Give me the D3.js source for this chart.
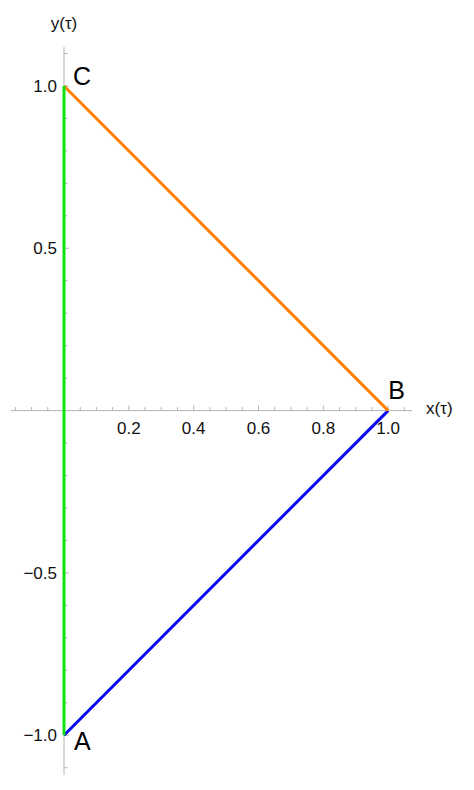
<!DOCTYPE html>
<html><head><meta charset="utf-8">
<script src="https://cdn.jsdelivr.net/npm/d3@7"></script>
<style>html,body{margin:0;padding:0;background:#fff;}svg{display:block;}</style>
</head><body>
<svg id="chart" width="474" height="790"></svg>
<script>
// Data
const segmentNames = ["AB", "BC", "CA"];
const segmentColors = ["#0808f0", "#ff8000", "#10e010"];
const segmentFrom = [[0, -1], [1, 0], [0, 1]];
const segmentTo = [[1, 0], [0, 1], [0, -1]];
const pointLabels = ["A", "B", "C"];
const pointX = [0, 1, 0];
const pointY = [-1, 0, 1];
const xMajorTicks = [0.2, 0.4, 0.6, 0.8, 1.0];
const xMinorTicks = [-0.15, -0.1, -0.05, 0.05, 0.1, 0.15, 0.25, 0.3, 0.35, 0.45, 0.5, 0.55, 0.65, 0.7, 0.75, 0.85, 0.9, 0.95, 1.05];
const yMajorTicks = [-1.0, -0.5, 0.5, 1.0];
const yMinorTicks = [-1.1, -0.9, -0.8, -0.7, -0.6, -0.4, -0.3, -0.2, -0.1, 0.1, 0.2, 0.3, 0.4, 0.6, 0.7, 0.8, 0.9, 1.1];
const xTickLabels = ["0.2", "0.4", "0.6", "0.8", "1.0"];
const yTickLabels = ["\u22121.0", "\u22120.5", "0.5", "1.0"];

const svg = d3.select("#chart");
const font = "'Liberation Sans', Arial, sans-serif";

const x = d3.scaleLinear().domain([-0.1635, 1.0735]).range([11, 412]);
const y = d3.scaleLinear().domain([-1.1225, 1.12]).range([775, 47]);

const axisColor = "#b4b4b4";

// x axis line
svg.append("line").attr("x1", x(-0.1635)).attr("x2", x(1.0735))
  .attr("y1", y(0)).attr("y2", y(0)).attr("stroke", axisColor).attr("stroke-width", 1);
// y axis line
svg.append("line").attr("x1", x(0)).attr("x2", x(0))
  .attr("y1", y(1.12)).attr("y2", y(-1.1225)).attr("stroke", axisColor).attr("stroke-width", 1);

// x ticks (upward)
svg.append("g").selectAll("line").data(xMajorTicks).join("line")
  .attr("x1", d => x(d)).attr("x2", d => x(d))
  .attr("y1", y(0)).attr("y2", y(0) - 5).attr("stroke", axisColor);
svg.append("g").selectAll("line").data(xMinorTicks).join("line")
  .attr("x1", d => x(d)).attr("x2", d => x(d))
  .attr("y1", y(0)).attr("y2", y(0) - 3.5).attr("stroke", axisColor);
// y ticks (rightward)
svg.append("g").selectAll("line").data(yMajorTicks).join("line")
  .attr("y1", d => y(d)).attr("y2", d => y(d))
  .attr("x1", x(0)).attr("x2", x(0) + 5).attr("stroke", axisColor);
svg.append("g").selectAll("line").data(yMinorTicks).join("line")
  .attr("y1", d => y(d)).attr("y2", d => y(d))
  .attr("x1", x(0)).attr("x2", x(0) + 3.5).attr("stroke", axisColor);

// tick labels
svg.append("g").selectAll("text").data(xMajorTicks).join("text")
  .attr("x", d => x(d)).attr("y", y(0) + 23)
  .attr("text-anchor", "middle").attr("font-family", font).attr("font-size", 17)
  .attr("fill", "#111").text((d, i) => xTickLabels[i]);
svg.append("g").selectAll("text").data(yMajorTicks).join("text")
  .attr("x", x(0) - 7).attr("y", d => y(d)).attr("dy", "0.36em")
  .attr("text-anchor", "end").attr("font-family", font).attr("font-size", 17)
  .attr("fill", "#111").text((d, i) => yTickLabels[i]);

// axis labels
svg.append("text").attr("x", x(0)).attr("y", 29).attr("text-anchor", "middle")
  .attr("font-family", font).attr("font-size", 17).attr("fill", "#111").text("y(\u03c4)");
svg.append("text").attr("x", 426).attr("y", y(0) + 3.5).attr("text-anchor", "start")
  .attr("font-family", font).attr("font-size", 17).attr("fill", "#111").text("x(\u03c4)");

// segments
const line = d3.line().x(d => x(d[0])).y(d => y(d[1]));
segmentNames.forEach((n, i) => {
  svg.append("path").datum([segmentFrom[i], segmentTo[i]])
    .attr("d", line).attr("fill", "none")
    .attr("stroke", segmentColors[i]).attr("stroke-width", 3)
    .attr("stroke-linecap", "butt");
});

// point labels
const labelDx = [10, 0, 9];
const labelDy = [15, -12, -1];
svg.append("g").selectAll("text").data(pointLabels).join("text")
  .attr("x", (d, i) => x(pointX[i]) + labelDx[i])
  .attr("y", (d, i) => y(pointY[i]) + labelDy[i])
  .attr("font-family", font).attr("font-size", 25).attr("fill", "#000")
  .text(d => d);
</script>
</body></html>
